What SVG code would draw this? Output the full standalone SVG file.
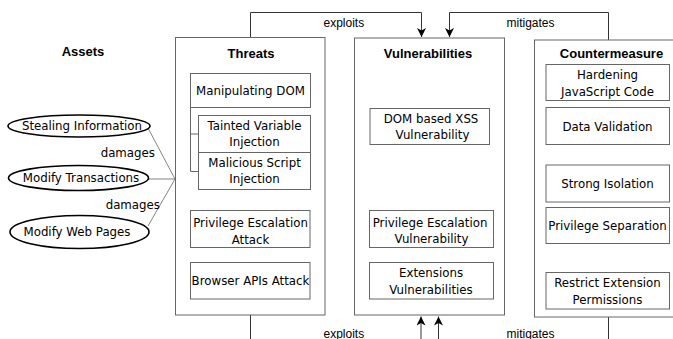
<svg xmlns="http://www.w3.org/2000/svg" width="673" height="339" viewBox="0 0 673 339">
<style>
.bg{fill:#fff}
.outer{fill:#fff;stroke:#666;stroke-width:1}
.inner{fill:#fff;stroke:#666;stroke-width:1}
.ell{fill:#fff;stroke:#000;stroke-width:1.6}
.conn{fill:none;stroke:#333;stroke-width:1}
.dmg{fill:none;stroke:#777;stroke-width:0.9}
.title{font-family:"Liberation Sans",Arial,sans-serif;font-weight:bold;font-size:13px;fill:#000;text-anchor:middle}
.lbl{font-family:"DejaVu Sans",Verdana,sans-serif;font-size:11.8px;fill:#000;text-anchor:middle}
.edge{font-family:"Liberation Sans",Arial,sans-serif;font-size:12px;fill:#000}
</style>
<defs>
<marker id="arr" markerUnits="userSpaceOnUse" markerWidth="12" markerHeight="12" refX="9" refY="4.5" orient="auto">
<path d="M0,0 L9,4.5 L0,9 L2.5,4.5 z" fill="#000"/>
</marker>
</defs>
<rect class="bg" x="0" y="0" width="673" height="339"/>

<g id="connectors">
<path class="conn" d="M250.5,37 V12.5 H421.5 V37" marker-end="url(#arr)"/>
<path class="conn" d="M608.5,40 V12.5 H449.5 V37" marker-end="url(#arr)"/>
<path class="conn" d="M250.5,315 V339"/>
<path class="conn" d="M421,339 V316.5" marker-end="url(#arr)"/>
<path class="conn" d="M438.5,339 V316.5" marker-end="url(#arr)"/>
<path class="conn" d="M608.5,317 V339"/>
<text class="edge" x="323.5" y="27">exploits</text>
<text class="edge" x="506.5" y="27">mitigates</text>
<text class="edge" x="323.5" y="337.5">exploits</text>
<text class="edge" x="506.5" y="337.5">mitigates</text>
<path class="dmg" d="M148,128 L175,179"/>
<path class="dmg" d="M148.5,179 L175,179"/>
<path class="dmg" d="M148,226 L175,179"/>
<text class="lbl" x="155" y="156.5" style="text-anchor:end">damages</text>
<text class="lbl" x="160" y="208.5" style="text-anchor:end">damages</text>
</g>

<g id="assets">
<text class="title" x="83" y="55.5">Assets</text>
</g>
<g id="asset-stealing">
<ellipse class="ell" cx="79" cy="126" rx="71" ry="11"/>
<text class="lbl" x="82" y="129.5">Stealing Information</text>
</g>
<g id="asset-transactions">
<ellipse class="ell" cx="78.5" cy="178" rx="70" ry="12.5"/>
<text class="lbl" x="81" y="181.5">Modify Transactions</text>
</g>
<g id="asset-webpages">
<ellipse class="ell" cx="79.5" cy="232" rx="69.5" ry="16.5"/>
<text class="lbl" x="77" y="236">Modify Web Pages</text>
</g>

<g id="threats">
<rect class="outer" x="175.5" y="37.5" width="149.5" height="277.5"/>
<text class="title" x="251" y="57.5">Threats</text>
</g>
<g id="threat-dom">
<rect class="inner" x="190.5" y="73.5" width="120" height="34"/>
<text class="lbl" x="250.5" y="94.5">Manipulating DOM</text>
<path class="inner" d="M190.5,107.5 V171.5 H198.5 M190.5,134 H198.5" fill="none"/>
</g>
<g id="threat-tainted">
<rect class="inner" x="198.5" y="115.5" width="112" height="37"/>
<text class="lbl" x="254.5" y="129.5">Tainted Variable</text>
<text class="lbl" x="254.5" y="145.5">Injection</text>
</g>
<g id="threat-malicious">
<rect class="inner" x="198.5" y="152.5" width="112" height="37"/>
<text class="lbl" x="254.5" y="167">Malicious Script</text>
<text class="lbl" x="254.5" y="183">Injection</text>
</g>
<g id="threat-privilege">
<rect class="inner" x="190.5" y="210.5" width="119.5" height="37"/>
<text class="lbl" x="250.5" y="227">Privilege Escalation</text>
<text class="lbl" x="250.5" y="243.5">Attack</text>
</g>
<g id="threat-browser">
<rect class="inner" x="190.5" y="262.5" width="119.5" height="36.5"/>
<text class="lbl" x="250.5" y="284.5">Browser APIs Attack</text>
</g>

<g id="vulnerabilities">
<rect class="outer" x="354.5" y="38" width="150" height="277"/>
<text class="title" x="428" y="58">Vulnerabilities</text>
</g>
<g id="vuln-dom">
<rect class="inner" x="370" y="108.5" width="119.5" height="36"/>
<text class="lbl" x="431" y="122.5">DOM based XSS</text>
<text class="lbl" x="432.5" y="139">Vulnerability</text>
</g>
<g id="vuln-privilege">
<rect class="inner" x="369.5" y="210.5" width="124" height="37"/>
<text class="lbl" x="430" y="226.5">Privilege Escalation</text>
<text class="lbl" x="431.5" y="243">Vulnerability</text>
</g>
<g id="vuln-extensions">
<rect class="inner" x="369.5" y="262.5" width="124" height="36.5"/>
<text class="lbl" x="431" y="277">Extensions</text>
<text class="lbl" x="431" y="294">Vulnerabilities</text>
</g>

<g id="countermeasure">
<rect class="outer" x="534.5" y="40" width="148" height="277"/>
<text class="title" x="611.5" y="58">Countermeasure</text>
</g>
<g id="cm-hardening">
<rect class="inner" x="546" y="64.5" width="123.5" height="36"/>
<text class="lbl" x="607.5" y="78.5">Hardening</text>
<text class="lbl" x="607.5" y="96">JavaScript Code</text>
</g>
<g id="cm-validation">
<rect class="inner" x="546" y="107.5" width="123.5" height="37"/>
<text class="lbl" x="607.5" y="130.5">Data Validation</text>
</g>
<g id="cm-isolation">
<rect class="inner" x="546" y="165" width="123.5" height="37"/>
<text class="lbl" x="607.5" y="188">Strong Isolation</text>
</g>
<g id="cm-separation">
<rect class="inner" x="546" y="207.5" width="123.5" height="36"/>
<text class="lbl" x="607.5" y="230">Privilege Separation</text>
</g>
<g id="cm-restrict">
<rect class="inner" x="546" y="272.5" width="123.5" height="36.5"/>
<text class="lbl" x="607.5" y="287">Restrict Extension</text>
<text class="lbl" x="607.5" y="303.5">Permissions</text>
</g>
</svg>
